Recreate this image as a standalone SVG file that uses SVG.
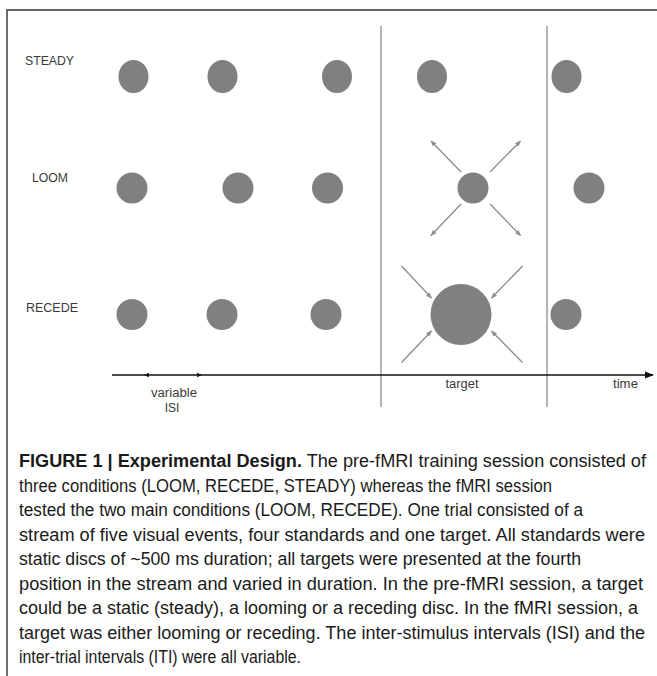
<svg xmlns="http://www.w3.org/2000/svg" width="657" height="676" viewBox="0 0 657 676">
<style>
.disc{fill:#808080}
.lbl{font-family:"Liberation Sans",Arial,sans-serif;font-size:12px;fill:#3a3a3a}
.cap{font-family:"Liberation Sans",Arial,sans-serif;font-size:17.5px;fill:#1a1a1a}
.b{font-weight:bold}
.arr{stroke:#8c8c8c;stroke-width:1.3;fill:none}
.sep{stroke:#8c8c8c;stroke-width:1.3}
</style>
<defs>
<marker id="ah" viewBox="0 0 10 10" refX="9" refY="5" markerWidth="6" markerHeight="6" orient="auto" markerUnits="userSpaceOnUse">
<path d="M0,1 L10,5 L0,9 z" fill="#8c8c8c"/>
</marker>
<marker id="axh" viewBox="0 0 10 10" refX="9" refY="5" markerWidth="9" markerHeight="9" orient="auto" markerUnits="userSpaceOnUse">
<path d="M0,1 L10,5 L0,9 z" fill="#111"/>
</marker>
</defs>
<rect width="657" height="676" fill="#fff"/>
<g id="frame">
<path d="M7,676 V10 H657" fill="none" stroke="#333" stroke-width="1.4"/>
</g>
<g id="separators">
<line class="sep" x1="381" y1="26" x2="381" y2="407"/>
<line class="sep" x1="547" y1="26" x2="547" y2="407"/>
</g>
<g id="labels">
<text class="lbl" x="25" y="65" textLength="49" lengthAdjust="spacingAndGlyphs">STEADY</text>
<text class="lbl" x="32" y="182" textLength="36" lengthAdjust="spacingAndGlyphs">LOOM</text>
<text class="lbl" x="26" y="312" textLength="52" lengthAdjust="spacingAndGlyphs">RECEDE</text>
</g>
<g id="steady-row">
<ellipse class="disc" cx="133.5" cy="76.5" rx="15" ry="16.5"/>
<ellipse class="disc" cx="222.5" cy="76.5" rx="15" ry="16.5"/>
<ellipse class="disc" cx="337" cy="76.5" rx="15" ry="16.5"/>
<ellipse class="disc" cx="432" cy="76.5" rx="15" ry="16.5"/>
<ellipse class="disc" cx="566.5" cy="76.5" rx="15" ry="16.5"/>
</g>
<g id="loom-row">
<circle class="disc" cx="132" cy="188" r="15.5"/>
<circle class="disc" cx="238" cy="188" r="15.5"/>
<circle class="disc" cx="327.5" cy="188" r="15.5"/>
<circle class="disc" cx="473" cy="188" r="15.5"/>
<circle class="disc" cx="589" cy="188" r="15.5"/>
</g>
<g id="recede-row">
<circle class="disc" cx="132" cy="314.5" r="15.5"/>
<circle class="disc" cx="222" cy="314.5" r="15.5"/>
<circle class="disc" cx="326" cy="314.5" r="15.5"/>
<circle class="disc" cx="461" cy="314.5" r="30.5"/>
<circle class="disc" cx="566" cy="314.5" r="15.5"/>
</g>
<g id="connectors">
<line class="arr" x1="461" y1="172" x2="431" y2="141" marker-end="url(#ah)"/>
<line class="arr" x1="490" y1="172" x2="520.5" y2="141" marker-end="url(#ah)"/>
<line class="arr" x1="461" y1="204" x2="431" y2="235.5" marker-end="url(#ah)"/>
<line class="arr" x1="490" y1="204" x2="520.5" y2="235.5" marker-end="url(#ah)"/>
<line class="arr" x1="401.5" y1="266" x2="431.5" y2="298" marker-end="url(#ah)"/>
<line class="arr" x1="522.5" y1="266" x2="491.5" y2="298" marker-end="url(#ah)"/>
<line class="arr" x1="401.5" y1="362.5" x2="431.5" y2="331" marker-end="url(#ah)"/>
<line class="arr" x1="522.5" y1="362.5" x2="491.5" y2="331" marker-end="url(#ah)"/>
</g>
<g id="time-axis">
<line x1="112" y1="375" x2="653" y2="375" stroke="#111" stroke-width="1.3" marker-end="url(#axh)"/>
<path d="M144,375 L149,372.8 L149,377.2 z" fill="#111"/>
<path d="M202,375 L197,372.8 L197,377.2 z" fill="#111"/>
<text class="lbl" x="174" y="397" text-anchor="middle" textLength="46" lengthAdjust="spacingAndGlyphs">variable</text>
<text class="lbl" x="172" y="412" text-anchor="middle">ISI</text>
<text class="lbl" x="462" y="388" text-anchor="middle" textLength="33" lengthAdjust="spacingAndGlyphs">target</text>
<text class="lbl" x="625.5" y="388" text-anchor="middle" textLength="25" lengthAdjust="spacingAndGlyphs">time</text>
</g>
<g id="caption">
<text class="cap" x="19" y="467" textLength="627" lengthAdjust="spacingAndGlyphs"><tspan class="b">FIGURE 1 | Experimental Design.</tspan> The pre-fMRI training session consisted of</text>
<text class="cap" x="19" y="491.5" textLength="533" lengthAdjust="spacingAndGlyphs">three conditions (LOOM, RECEDE, STEADY) whereas the fMRI session</text>
<text class="cap" x="19" y="516" textLength="564" lengthAdjust="spacingAndGlyphs">tested the two main conditions (LOOM, RECEDE). One trial consisted of a</text>
<text class="cap" x="19" y="540.5" textLength="626" lengthAdjust="spacingAndGlyphs">stream of five visual events, four standards and one target. All standards were</text>
<text class="cap" x="19" y="565" textLength="562" lengthAdjust="spacingAndGlyphs">static discs of ~500 ms duration; all targets were presented at the fourth</text>
<text class="cap" x="19" y="589.5" textLength="624" lengthAdjust="spacingAndGlyphs">position in the stream and varied in duration. In the pre-fMRI session, a target</text>
<text class="cap" x="19" y="614" textLength="619" lengthAdjust="spacingAndGlyphs">could be a static (steady), a looming or a receding disc. In the fMRI session, a</text>
<text class="cap" x="19" y="638.5" textLength="626" lengthAdjust="spacingAndGlyphs">target was either looming or receding. The inter-stimulus intervals (ISI) and the</text>
<text class="cap" x="19" y="663" textLength="282" lengthAdjust="spacingAndGlyphs">inter-trial intervals (ITI) were all variable.</text>
</g>
</svg>
